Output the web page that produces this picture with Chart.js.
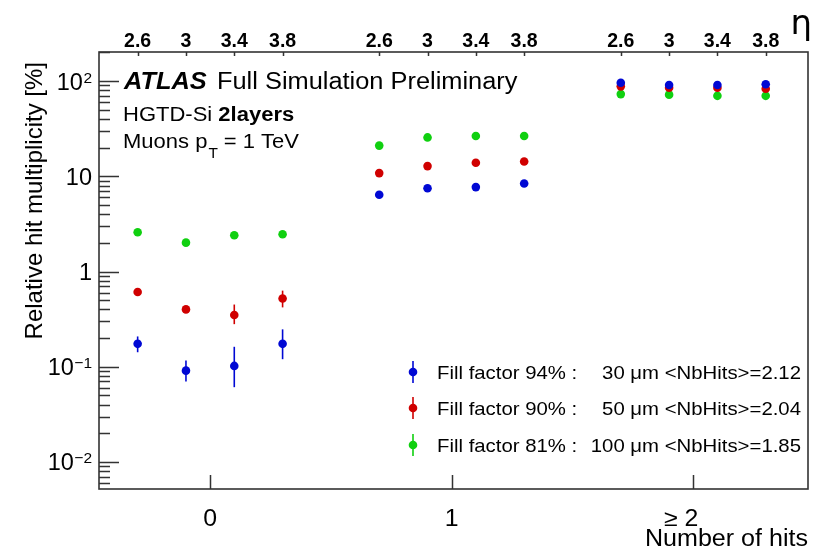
<!DOCTYPE html>
<html>
<head>
<meta charset="utf-8">
<script src="https://cdn.jsdelivr.net/npm/chart.js@4.4.0/dist/chart.umd.min.js"></script>
<style>
  html, body { margin: 0; padding: 0; background: #fff; }
  #wrap { width: 814px; height: 547px; }
</style>
</head>
<body>
<div id="wrap"><canvas id="chart" width="814" height="547"></canvas></div>
<script>
// bottom axis: number of hits
const hitValues = [0, 1, 2];
const hitLabels = ['0', '1', '\u2265 2'];

// top axis: eta value of each point
const xPos = [-0.3, -0.1, 0.1, 0.3, 0.7, 0.9, 1.1, 1.3, 1.7, 1.9, 2.1, 2.3];
const etaLabels = ['2.6', '3', '3.4', '3.8', '2.6', '3', '3.4', '3.8', '2.6', '3', '3.4', '3.8'];

// y range / decades
const yMin = 0.0052, yMax = 202;
const decades = [-2, -1, 0, 1, 2];

// fill factor 94%, 30 um
const ff94 = [0.174, 0.091, 0.102, 0.174, 6.4, 7.5, 7.7, 8.4, 96, 91, 91, 92.5];
const ff94Lo = [0.142, 0.070, 0.061, 0.120, 6.2, 7.3, 7.5, 8.2, 94, 89, 89, 90.5];
const ff94Hi = [0.208, 0.116, 0.162, 0.247, 6.6, 7.7, 7.9, 8.6, 98, 93, 93, 94.5];

// fill factor 90%, 50 um
const ff90 = [0.61, 0.40, 0.35, 0.52, 10.8, 12.8, 13.9, 14.3, 88, 85, 85, 83];
const ff90Lo = [0.56, 0.37, 0.28, 0.42, 10.5, 12.5, 13.5, 13.9, 86, 83, 83, 81];
const ff90Hi = [0.67, 0.43, 0.45, 0.63, 11.1, 13.1, 14.3, 14.7, 90, 87, 87, 85];

// fill factor 81%, 100 um
const ff81 = [2.58, 2.01, 2.40, 2.46, 21.0, 25.6, 26.5, 26.5, 73, 72, 70, 70];
const ff81Lo = [2.45, 1.90, 2.28, 2.33, 20.5, 25.0, 25.9, 25.9, 71.5, 70.5, 68.5, 68.5];
const ff81Hi = [2.72, 2.12, 2.52, 2.60, 21.5, 26.2, 27.1, 27.1, 74.5, 73.5, 71.5, 71.5];

const seriesNames = ['Fill factor 94% :', 'Fill factor 90% :', 'Fill factor 81% :'];
const seriesInfo = ['30 \u03bcm <NbHits>=2.12', '50 \u03bcm <NbHits>=2.04', '100 \u03bcm <NbHits>=1.85'];
const colors = ['#0008d4', '#d00000', '#10d010'];

const FONT = '"Liberation Sans", Arial, Helvetica, sans-serif';

const toPoints = (vals) => xPos.map((x, i) => ({ x: x, y: vals[i] }));

const makeSet = (label, vals, lo, hi, color) => ({
    label: label,
    data: toPoints(vals),
    errLo: lo,
    errHi: hi,
    backgroundColor: color,
    borderColor: color,
    pointRadius: 4.3,
    pointHoverRadius: 4.3,
    borderWidth: 0,
    showLine: false
});

// text with a little horizontal stretch, like the reference
const drawText = (ctx, text, x, y, font, align, sx) => {
    ctx.save();
    ctx.font = font;
    ctx.textAlign = align || 'left';
    ctx.translate(x, y);
    ctx.scale(sx || 1, 1);
    ctx.fillText(text, 0, 0);
    const w = ctx.measureText(text).width * (sx || 1);
    ctx.restore();
    return w;
};

// ROOT-like frame, inside ticks, error bars and the labels
const rootStyle = {
    id: 'rootStyle',
    beforeDatasetsDraw(chart) {
        const ctx = chart.ctx;
        const xs = chart.scales.x, ys = chart.scales.y;
        ctx.save();
        ctx.lineWidth = 1.6;
        chart.data.datasets.forEach(ds => {
            ctx.strokeStyle = ds.borderColor;
            ds.data.forEach((p, i) => {
                const px = xs.getPixelForValue(p.x);
                ctx.beginPath();
                ctx.moveTo(px, ys.getPixelForValue(ds.errLo[i]));
                ctx.lineTo(px, ys.getPixelForValue(ds.errHi[i]));
                ctx.stroke();
            });
        });
        ctx.restore();
    },
    afterDraw(chart) {
        const ctx = chart.ctx;
        const a = chart.chartArea;
        const xs = chart.scales.x, ys = chart.scales.y;
        ctx.save();

        // frame
        ctx.strokeStyle = '#333';
        ctx.lineWidth = 1.6;
        ctx.strokeRect(a.left, a.top, a.right - a.left, a.bottom - a.top);

        // y ticks (major + minor)
        ctx.lineWidth = 1.5;
        ctx.beginPath();
        for (let e = -3; e <= 2; e++) {
            for (let m = 1; m <= 9; m++) {
                const v = m * Math.pow(10, e);
                if (v < yMin || v > yMax) continue;
                const py = Math.round(ys.getPixelForValue(v)) + 0.5;
                ctx.moveTo(a.left, py);
                ctx.lineTo(a.left + (m === 1 ? 20 : 11), py);
            }
        }
        // bottom ticks
        hitValues.forEach(v => {
            const px = Math.round(xs.getPixelForValue(v)) + 0.5;
            ctx.moveTo(px, a.bottom);
            ctx.lineTo(px, a.bottom - 14);
        });
        // top ticks
        xPos.forEach(v => {
            const px = Math.round(xs.getPixelForValue(v)) + 0.5;
            ctx.moveTo(px, a.top);
            ctx.lineTo(px, a.top + 4);
        });
        ctx.stroke();

        ctx.fillStyle = '#000';
        ctx.textBaseline = 'alphabetic';

        // y tick labels with superscripts
        decades.forEach(e => {
            const py = ys.getPixelForValue(Math.pow(10, e));
            const right = 92;
            if (e === 0 || e === 1) {
                drawText(ctx, e === 0 ? '1' : '10', right, py + 8.5, '23.5px ' + FONT, 'right');
            } else {
                const sup = e < 0 ? '\u2212' + (-e) : String(e);
                const w = drawText(ctx, sup, right, py + 1.5, '15.5px ' + FONT, 'right');
                drawText(ctx, '10', right - w - 0.5, py + 8.5, '23.5px ' + FONT, 'right');
            }
        });

        // bottom tick labels, centred like the reference
        const hitShift = [0, 0, -12];
        hitValues.forEach((v, i) => {
            drawText(ctx, hitLabels[i], xs.getPixelForValue(v) + hitShift[i], 526, '23px ' + FONT, 'center', 1.08);
        });

        // axis titles
        drawText(ctx, 'Number of hits', 808, 546, '23px ' + FONT, 'right', 1.09);

        ctx.save();
        ctx.translate(42, 62);
        ctx.rotate(-Math.PI / 2);
        ctx.font = '24px ' + FONT;
        ctx.textAlign = 'right';
        ctx.fillText('Relative hit multiplicity [%]', 0, 0);
        ctx.restore();

        // eta symbol
        drawText(ctx, '\u03b7', 812, 34, '34px "DejaVu Sans", sans-serif', 'right');

        // ATLAS label
        let w = drawText(ctx, 'ATLAS', 124, 89, 'italic bold 23.5px ' + FONT, 'left', 1.08);
        drawText(ctx, 'Full Simulation Preliminary', 217, 89, '23.5px ' + FONT, 'left', 1.08);

        w = drawText(ctx, 'HGTD-Si ', 123, 121, '20px ' + FONT, 'left', 1.1);
        drawText(ctx, '2layers', 123 + w, 121, 'bold 20px ' + FONT, 'left', 1.1);

        w = drawText(ctx, 'Muons p', 123, 148, '20px ' + FONT, 'left', 1.1);
        const wT = drawText(ctx, 'T', 123 + w + 1, 158, '14px ' + FONT, 'left', 1.1);
        drawText(ctx, '= 1 TeV', 123 + w + wT + 7, 148, '20px ' + FONT, 'left', 1.1);

        // legend
        const rows = [372, 408, 445];
        rows.forEach((ry, i) => {
            ctx.strokeStyle = colors[i];
            ctx.fillStyle = colors[i];
            ctx.lineWidth = 1.6;
            ctx.beginPath();
            ctx.moveTo(413, ry - 11);
            ctx.lineTo(413, ry + 11);
            ctx.stroke();
            ctx.beginPath();
            ctx.arc(413, ry, 4.3, 0, Math.PI * 2);
            ctx.fill();
            ctx.fillStyle = '#000';
            drawText(ctx, seriesNames[i], 437, ry + 6.5, '18.5px ' + FONT, 'left', 1.1);
            drawText(ctx, seriesInfo[i], 801, ry + 6.5, '18.5px ' + FONT, 'right', 1.1);
        });

        ctx.restore();
    }
};

const config = {
    type: 'scatter',
    data: {
        datasets: [
            makeSet(seriesNames[0], ff94, ff94Lo, ff94Hi, colors[0]),
            makeSet(seriesNames[1], ff90, ff90Lo, ff90Hi, colors[1]),
            makeSet(seriesNames[2], ff81, ff81Lo, ff81Hi, colors[2])
        ]
    },
    options: {
        responsive: false,
        animation: false,
        devicePixelRatio: 1,
        layout: { padding: { left: 0, right: 6, top: 0, bottom: 0 } },
        plugins: {
            legend: { display: false },
            tooltip: { enabled: false }
        },
        scales: {
            x: {
                type: 'linear',
                position: 'bottom',
                min: -0.46,
                max: 2.475,
                afterBuildTicks: s => { s.ticks = hitValues.map(v => ({ value: v })); },
                afterFit: s => { s.height = 58; },
                grid: { display: false, drawTicks: false },
                border: { display: false },
                ticks: { display: false }
            },
            xTop: {
                type: 'linear',
                position: 'top',
                min: -0.46,
                max: 2.475,
                afterBuildTicks: s => { s.ticks = xPos.map(v => ({ value: v })); },
                afterFit: s => { s.height = 52; },
                grid: { display: false, drawTicks: false },
                border: { display: false },
                ticks: {
                    autoSkip: false,
                    maxRotation: 0,
                    padding: -1,
                    color: '#000',
                    font: { family: FONT, size: 19.5, weight: 'bold' },
                    callback: (v, i) => etaLabels[i]
                }
            },
            y: {
                type: 'logarithmic',
                min: yMin,
                max: yMax,
                afterFit: s => { s.width = 99; },
                grid: { display: false, drawTicks: false },
                border: { display: false },
                ticks: { display: false }
            }
        }
    },
    plugins: [rootStyle]
};

new Chart(document.getElementById('chart'), config);
</script>
</body>
</html>
